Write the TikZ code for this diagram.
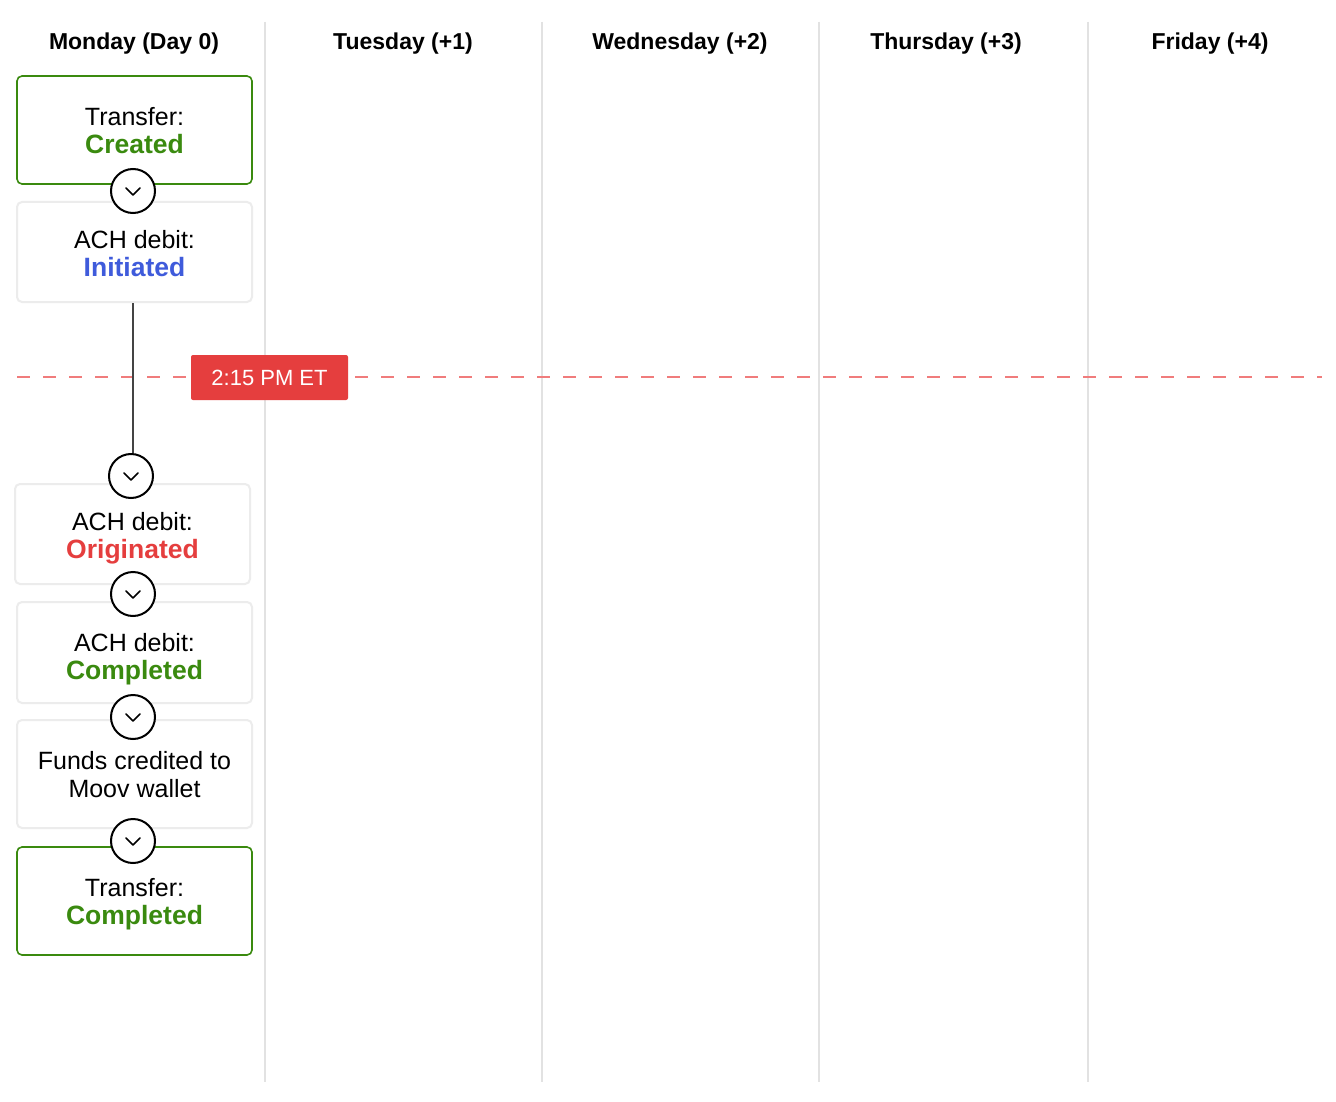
\documentclass[tikz,border=0pt]{standalone}
\usepackage{fontspec}
\setmainfont{Liberation Sans}
\definecolor{okgreen}{HTML}{3A8A0F}
\definecolor{blueS}{HTML}{3F5BDB}
\definecolor{redS}{HTML}{E53E3E}
\definecolor{dashred}{HTML}{F07C7C}
\definecolor{colline}{HTML}{E2E2E2}
\definecolor{boxline}{HTML}{ECECEC}
\definecolor{connline}{HTML}{444444}
\newcommand{\stat}[2]{{\color{#1}\fontsize{26.5}{28}\selectfont\bfseries #2}}
\begin{document}
\begin{tikzpicture}[x=1pt,y=-1pt,
  basebox/.style={line width=1.6pt, rounded corners=5pt, fill=white,
    minimum width=235pt, inner sep=0pt},
  greenbox/.style={basebox, draw=okgreen, minimum height=108pt},
  graybox/.style={basebox, draw=boxline, line width=2pt, minimum height=100pt},
  boxtext/.style={align=center, inner sep=0pt, font=\fontsize{25}{28}\selectfont},
  header/.style={font=\fontsize{23}{27}\selectfont\bfseries, inner sep=0pt},
  colsep/.style={draw=colline, line width=2pt},
  chev/.style={circle, draw=black, line width=2pt, fill=white, minimum size=44pt, inner sep=0pt,
    path picture={\draw[line width=1.6pt, line cap=round, line join=round]
      ([xshift=-7pt,yshift=3pt]path picture bounding box.center) -- ++(7pt,-7pt) -- ++(7pt,7pt);}},
  cutoff/.style={draw=dashred, line width=1.6pt, dash pattern=on 13pt off 13pt},
  timetag/.style={fill=redS, rounded corners=2pt, minimum width=157pt, minimum height=45pt,
    inner sep=0pt, text=white, font=\fontsize{22}{26}\selectfont}
]
\useasboundingbox[fill=white] (0,0) rectangle (1336,1102);

% column separators
\foreach \x in {265,542,819,1088}{
  \draw[colsep] (\x,22) -- (\x,1082);
}

% headers
\node[header] (h1) at (134,44) {Monday (Day 0)};
\node[header] (h2) at (403,44) {Tuesday (+1)};
\node[header] (h3) at (680,44) {Wednesday (+2)};
\node[header] (h4) at (946,44) {Thursday (+3)};
\node[header] (h5) at (1210,44) {Friday (+4)};

% cutoff line
\coordinate (dl) at (17,377);
\coordinate (dr) at (1322,377);
\draw[cutoff] (dl) -- (dr);
\node[timetag] (tag) at (269.5,377.5) {2:15 PM ET};

% boxes
\node[greenbox] (b1) at (134.5,130) {};
\node[boxtext] (t1) at ([yshift=-1pt]b1.center) {Transfer:\\\stat{okgreen}{Created}};
\node[graybox] (b2) at (134.5,252) {};
\node[boxtext] (t2) at ([yshift=-2pt]b2.center) {ACH debit:\\\stat{blueS}{Initiated}};
\node[graybox] (b3) at (132.5,534) {};
\node[boxtext] (t3) at ([yshift=-4pt]b3.center) {ACH debit:\\\stat{redS}{Originated}};
\node[graybox, minimum height=101pt] (b4) at (134.5,652.5) {};
\node[boxtext] (t4) at ([yshift=-7pt]b4.center) {ACH debit:\\\stat{okgreen}{Completed}};
\node[graybox, minimum height=108pt] (b5) at (134.5,774) {};
\node[boxtext] (t5) at ([yshift=-1pt]b5.center) {Funds credited to\\Moov wallet};
\node[greenbox] (b6) at (134.5,901) {};
\node[boxtext] (t6) at ([yshift=-3pt]b6.center) {Transfer:\\\stat{okgreen}{Completed}};

% chevron markers
\node[chev] (c1) at (133,191) {};
\node[chev] (c2) at (131,476) {};
\node[chev] (c3) at (133,594) {};
\node[chev] (c4) at (133,717) {};
\node[chev] (c5) at (133,841) {};

% connector across cutoff
\coordinate (lx) at (133,0);
\draw[draw=connline, line width=2pt] (b2.south -| lx) -- (c2.north -| lx);
\end{tikzpicture}
\end{document}
